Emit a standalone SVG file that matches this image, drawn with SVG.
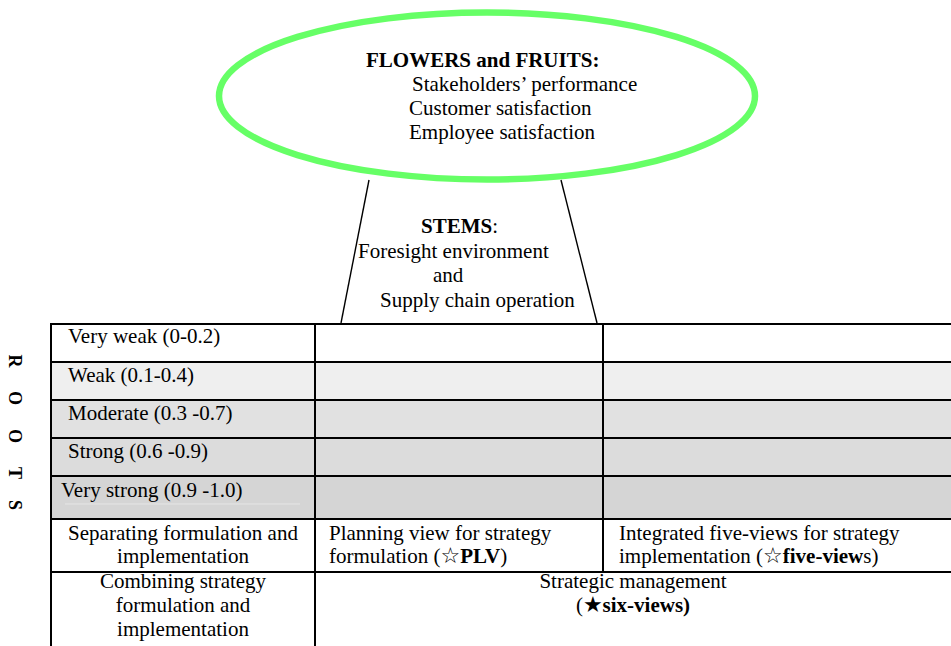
<svg xmlns="http://www.w3.org/2000/svg" width="951" height="646" viewBox="0 0 951 646">
<style>
text{font-family:"Liberation Serif","DejaVu Serif","DejaVu Sans",serif;font-size:21px;fill:#000}
.b{font-weight:bold}
.c{text-anchor:middle}
.star{font-family:"DejaVu Sans",sans-serif;font-size:22px;font-weight:normal}
.grid{stroke:#000;stroke-width:2;fill:none}
.stem{stroke:#000;stroke-width:1.4;fill:none}
.roots{font-weight:bold;font-size:18px;text-anchor:middle}
</style>
<rect x="0" y="0" width="951" height="646" fill="#fff"/>

<g id="flowers">
  <ellipse cx="487" cy="96" rx="268" ry="83.5" fill="#fff" stroke="#66ff66" stroke-width="6.5"/>
  <text x="366" y="67" class="b">FLOWERS and FRUITS:</text>
  <text x="412" y="91">Stakeholders’ performance</text>
  <text x="409" y="115">Customer satisfaction</text>
  <text x="409" y="139">Employee satisfaction</text>
</g>

<g id="connectors">
  <line class="stem" x1="369" y1="180" x2="341" y2="323"/>
  <line class="stem" x1="561" y1="180" x2="597" y2="323"/>
</g>

<g id="stems">
  <text x="421" y="233"><tspan class="b">STEMS</tspan>:</text>
  <text x="358" y="258">Foresight environment</text>
  <text x="433" y="282">and</text>
  <text x="380" y="307">Supply chain operation</text>
</g>

<g id="roots-label">
  <text class="roots" transform="translate(9,361) rotate(90)">R</text>
  <text class="roots" transform="translate(9,398) rotate(90)">O</text>
  <text class="roots" transform="translate(9,436) rotate(90)">O</text>
  <text class="roots" transform="translate(9,473) rotate(90)">T</text>
  <text class="roots" transform="translate(9,505) rotate(90)">S</text>
</g>

<g id="table">
  <rect x="51" y="324" width="900" height="38" fill="#ffffff"/>
  <rect x="51" y="362" width="900" height="38" fill="#efefef"/>
  <rect x="51" y="400" width="900" height="38" fill="#e1e1e1"/>
  <rect x="51" y="438" width="900" height="38" fill="#dcdcdc"/>
  <rect x="51" y="476" width="900" height="43" fill="#d5d5d5"/>
  <line x1="65" y1="504" x2="300" y2="504" stroke="#e6e6e6" stroke-width="1"/>
  <path class="grid" d="M51 324H951M51 362H951M51 400H951M51 438H951M51 476H951M51 519H951M51 572H951M51 323V646M315 323V646M603 323V572"/>
</g>

<g id="row-labels">
  <text x="68" y="343">Very weak (0-0.2)</text>
  <text x="68" y="382">Weak (0.1-0.4)</text>
  <text x="68" y="420">Moderate (0.3 -0.7)</text>
  <text x="68" y="458">Strong (0.6 -0.9)</text>
  <text x="61" y="497">Very strong (0.9 -1.0)</text>
</g>

<g id="separating">
  <text x="183" y="540" class="c">Separating formulation and</text>
  <text x="183" y="563" class="c">implementation</text>
</g>
<g id="plv">
  <text x="329" y="540">Planning view for strategy</text>
  <text x="329" y="563">formulation (<tspan class="star">☆</tspan><tspan class="b">PLV</tspan>)</text>
</g>
<g id="five-views">
  <text x="619" y="540">Integrated five-views for strategy</text>
  <text x="619" y="563">implementation (<tspan class="star">☆</tspan><tspan class="b">five-view</tspan>s)</text>
</g>
<g id="combining">
  <text x="183" y="588" class="c">Combining strategy</text>
  <text x="183" y="612" class="c">formulation and</text>
  <text x="183" y="636" class="c">implementation</text>
</g>
<g id="six-views">
  <text x="633" y="588" class="c">Strategic management</text>
  <text x="633" y="612" class="c">(<tspan class="star">★</tspan><tspan class="b">six-views)</tspan></text>
</g>
</svg>
